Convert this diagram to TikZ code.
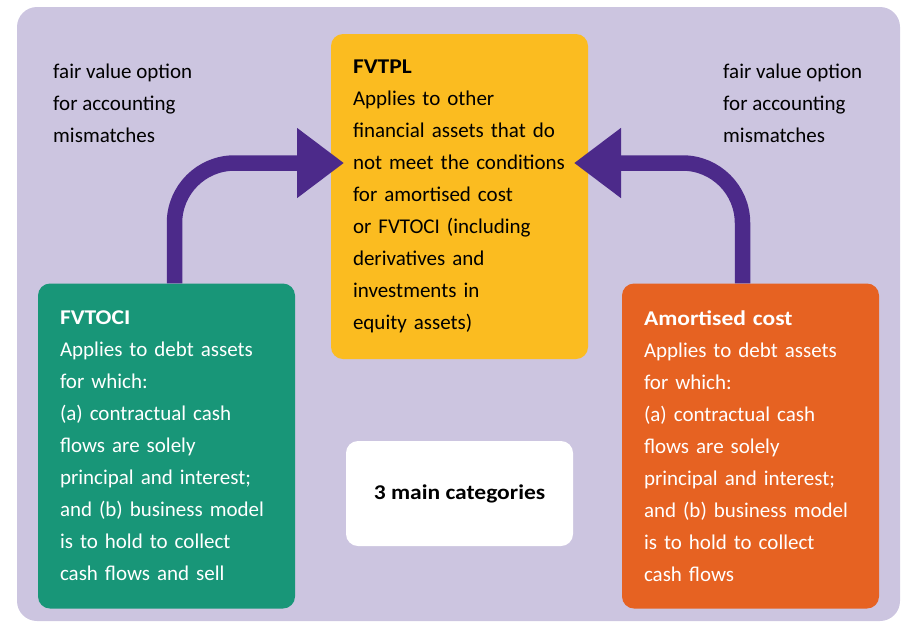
\documentclass[tikz,border=0pt]{standalone}
\usepackage{fontspec}
\setmainfont{Carlito}[BoldFeatures={FakeStretch=1.12}]
\usetikzlibrary{arrows.meta}
\definecolor{lavender}{RGB}{204,197,224}
\definecolor{fvyellow}{RGB}{251,188,32}
\definecolor{fvgreen}{RGB}{24,150,120}
\definecolor{fvorange}{RGB}{230,98,34}
\definecolor{fvpurple}{RGB}{76,42,138}

\begin{document}
\begin{tikzpicture}[x=1pt, y=-1pt, font=\fontsize{21}{32}\selectfont]
\useasboundingbox (0,0) rectangle (901,622);
\fill[lavender, rounded corners=20] (17,7) rectangle (900,621);
\tikzstyle{catbox} = [rounded corners=12, minimum height=325, text width=213, inner xsep=22, inner ysep=0, align=left]
\tikzstyle{note} = [inner sep=0, align=left, anchor=base west]
\tikzstyle{bend arrow} = [draw=fvpurple, line width=15.5, rounded corners=60, -{Triangle[length=47pt, width=67pt]}]
% the three categories
\node[catbox, fill=fvyellow] (fvtpl) at (459.5,196.5) {\textbf{FVTPL}\\Applies to other\\financial assets that do\\not meet the conditions\\for amortised cost\\or FVTOCI (including\\derivatives and\\investments in\\equity assets)};
\node[catbox, fill=fvgreen, text=white] (fvtoci) at (166.5,446) {\textbf{FVTOCI}\\Applies to debt assets\\for which:\\(a) contractual cash\\flows are solely\\principal and interest;\\and (b) business model\\is to hold to collect\\cash flows and sell};
\node[catbox, fill=fvorange, text=white] (amort) at (750.5,446) {\textbf{Amortised cost}\\Applies to debt assets\\for which:\\(a) contractual cash\\flows are solely\\principal and interest;\\and (b) business model\\is to hold to collect\\cash flows};
\node[fill=white, rounded corners=12, minimum width=227, minimum height=105, font=\fontsize{21}{32}\selectfont\bfseries] (main) at (459.5,493.5) {3 main categories};
% fair value option notes (base = last line)
\node[note] (fvoL) at (53,142) {fair value option\\for accounting\\mismatches};
\node[note] (fvoR) at (723,142) {fair value option\\for accounting\\mismatches};
% arrows into FVTPL
\coordinate (tipL) at (344,163);
\coordinate (tipR) at (574,163);
\draw[bend arrow] ([xshift=8]fvtoci.north) |- (tipL);
\draw[bend arrow] ([xshift=-8]amort.north) |- (tipR);
\end{tikzpicture}
\end{document}
